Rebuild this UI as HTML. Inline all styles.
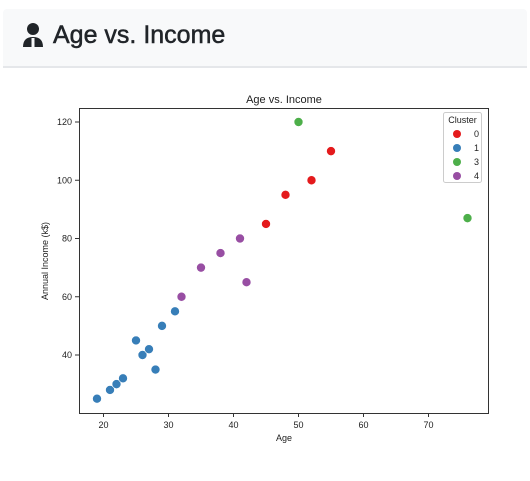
<!DOCTYPE html>
<html><head><meta charset="utf-8"><style>
body{margin:0;width:530px;height:481px;background:#fff;font-family:"Liberation Sans","DejaVu Sans",sans-serif;overflow:hidden}
.hdr{position:absolute;left:3px;top:9px;width:524px;height:57px;background:#f8f9fa;border-bottom:2px solid #e5e7ea;border-radius:4px 4px 0 0}
.hdr h1{margin:0;position:absolute;left:50px;top:12px;font-size:25px;font-weight:normal;color:#212529;font-family:"Liberation Sans",sans-serif;-webkit-text-stroke:0.5px #212529}
svg{position:absolute;left:0;top:0}
</style></head><body>
<div class="hdr">
<svg width="30" height="30" style="left:18px;top:12px"><circle cx="12" cy="8" r="6" fill="#212529"/><path d="M2 26 Q2 16 12 16 Q22 16 22 26 Z" fill="#212529"/><rect x="10.5" y="17" width="3" height="9" fill="#f8f9fa"/></svg>
<h1>Age vs. Income</h1>
</div>
<svg id="c" width="530" height="481"></svg>
<script>
const blueX=[19,21,22,23,25,26,27,28,29,31], blueY=[25,28,30,32,45,40,42,35,50,55];
const purpleX=[32,35,38,41,42], purpleY=[60,70,75,80,65];
const redX=[45,48,52,55], redY=[85,95,100,110];
const greenX=[50,76], greenY=[120,87];
const xTicks=[20,30,40,50,60,70], yTicks=[40,60,80,100,120];
const clusters=["0","1","3","4"];
const colors=["#e41a1c","#377eb8","#4daf4a","#984ea3"];
const NS="http://www.w3.org/2000/svg",s=document.getElementById('c');
const X=v=>103.5+(v-20)*6.5, Y=v=>355-(v-40)*2.9125;
function el(t,a,txt){const e=document.createElementNS(NS,t);for(const k in a)e.setAttribute(k,a[k]);if(txt!=null)e.textContent=txt;s.appendChild(e);return e;}
let e=el('rect',{x:79.5,y:108.5,width:409,height:305,fill:'none',stroke:'#333','stroke-width':1});

xTicks.forEach(t=>{el('line',{x1:X(t),x2:X(t),y1:413,y2:417,stroke:'#333'});
e=el('text',{x:X(t),y:428,'font-size':9,'text-anchor':'middle',fill:'#222'},t);
});
yTicks.forEach(t=>{el('line',{x1:75,x2:79,y1:Y(t),y2:Y(t),stroke:'#333'});
e=el('text',{x:72,y:Y(t)+3,'font-size':9,'text-anchor':'end',fill:'#222'},t);
});
e=el('text',{x:284,y:103,'font-size':11,'text-anchor':'middle',fill:'#222'},'Age vs. Income');

e=el('text',{x:284,y:441,'font-size':9,'text-anchor':'middle',fill:'#222'},'Age');

e=el('text',{x:48,y:261,'font-size':9,'text-anchor':'middle',fill:'#222',transform:'rotate(-90 48 261)'},'Annual Income (k$)');

[[redX,redY,0],[blueX,blueY,1],[greenX,greenY,2],[purpleX,purpleY,3]].forEach(([xs,ys,c])=>{
xs.forEach((v,i)=>{e=el('circle',{cx:X(v),cy:Y(ys[i]),r:4.5,fill:colors[c],stroke:'#fff','stroke-width':0.6});
});});
e=el('rect',{x:443.5,y:112.5,width:38,height:70,fill:'#fff',stroke:'#ccc',rx:2});

el('text',{x:462.5,y:123,'font-size':9,'text-anchor':'middle',fill:'#222'},'Cluster');
clusters.forEach((c,i)=>{const y=134+i*14;
el('circle',{cx:457,cy:y,r:4,fill:colors[i]});
e=el('text',{x:474,y:y+3,'font-size':9,fill:'#222'},c);
});
</script>
</body></html>
